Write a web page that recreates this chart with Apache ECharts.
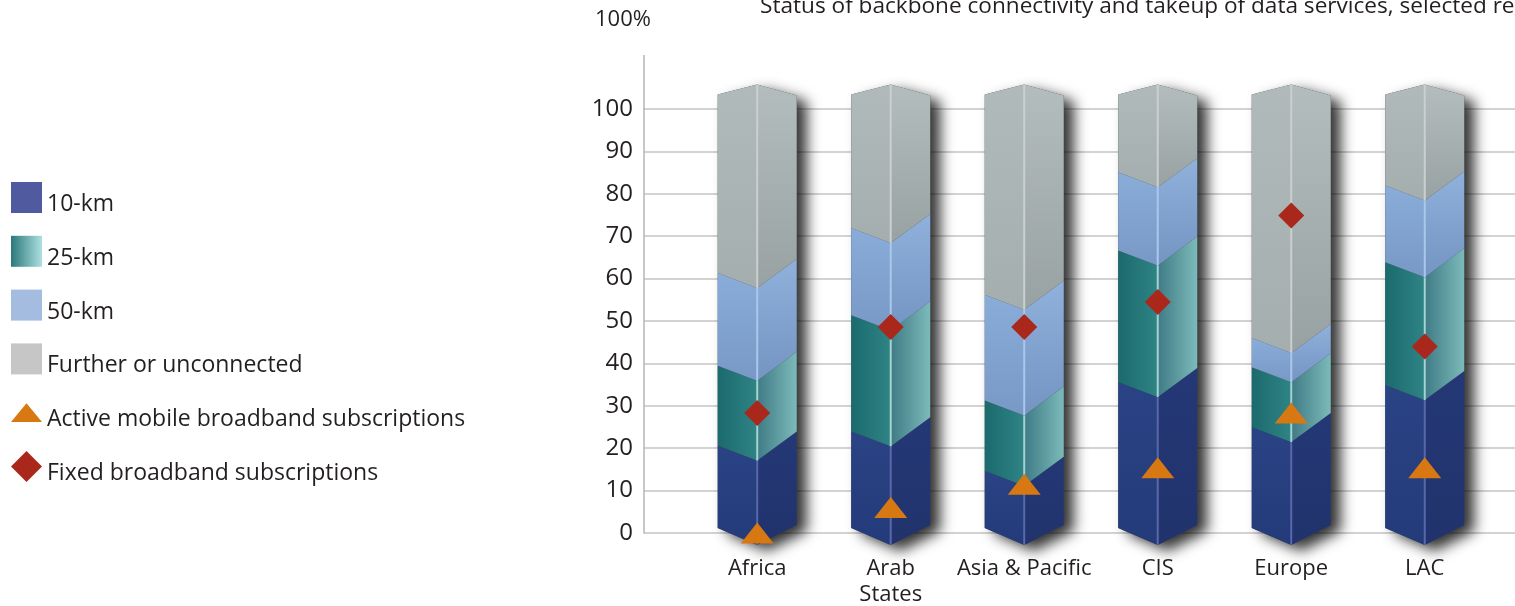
<!DOCTYPE html>
<html>
<head>
<meta charset="utf-8">
<script src="https://cdn.jsdelivr.net/npm/echarts@6.0.0/dist/echarts.min.js"></script>
<style>
  html, body { margin: 0; padding: 0; background: #fff; }
  #myChart { width: 1515px; height: 606px; }
</style>
</head>
<body>
<div id="myChart"></div>
<script type="text/javascript">

  // data (share of population, %)
  var categories = ['Africa', 'Arab\nStates', 'Asia & Pacific', 'CIS', 'Europe', 'LAC'];
  var km10 = [19.0, 22.3, 13.2, 33.7, 23.3, 33.0];
  var km25 = [18.4, 26.8, 16.2, 30.3, 13.8, 28.3];
  var km50 = [21.4, 20.1, 24.4, 18.1, 6.7, 17.7];
  var further = [41.2, 30.8, 46.2, 17.9, 56.2, 21.0];
  var mobileBB = [0, 6.0, 11.5, 15.4, 28.3, 15.4];
  var fixedBB = [28.3, 48.6, 48.6, 54.5, 74.9, 44.0];
  var layerNames = ['10-km', '25-km', '50-km', 'Further or unconnected'];
  var layers = [km10, km25, km50, further];

  var chartDom = document.getElementById('myChart');
  var myChart = echarts.init(chartDom);

  var font = 'Open Sans';
  var textColor = '#231f20';

  // face colours of the prisms
  var faces = [
    { left: ['#2a4384', '#243b7a'], right: ['#243877', '#21336c'], dir: 'v', ridge: '#5a67aa', legend: '#4f5b9e' },
    { left: ['#1b6a6e', '#2f8484'], right: ['#3f7b85', '#7cbaba'], dir: 'h', ridge: '#a3d3d2', legend: null },
    { left: ['#8aacd8', '#7899c6'], right: ['#8fb1db', '#7494c2'], dir: 'v', ridge: '#aac7ec', legend: '#a3bce0' },
    { left: ['#b0babb', '#a4aeaf'], right: ['#b3bdbd', '#98a2a2'], dir: 'v', ridge: '#cbcfcf', legend: '#c6c6c6' }
  ];

  function grad(c, dir) {
    if (dir === 'h') {
      return new echarts.graphic.LinearGradient(0, 0, 1, 0, [{ offset: 0, color: c[0] }, { offset: 1, color: c[1] }]);
    }
    return new echarts.graphic.LinearGradient(0, 0, 0, 1, [{ offset: 0, color: c[0] }, { offset: 1, color: c[1] }]);
  }

  var HALF = 39.5;
  // edge of the prism sits a bit higher than the flat value (3D look)
  function edgeY(api, i, c) {
    return api.coord([i, 1.2 + c * 1.022])[1];
  }
  function kink(c, total) {
    if (c <= 0) return [17, -3];
    if (c >= total - 0.01) return [-10, 1];
    return [15, -14];
  }

  function layerRender(k) {
    return function (params, api) {
      var i = api.value(0), lo = api.value(1), hi = api.value(2), total = api.value(3);
      var cx = api.coord([i, 0])[0];
      var y0 = edgeY(api, i, lo), y1 = edgeY(api, i, hi);
      var k0 = kink(lo, total), k1 = kink(hi, total);
      var xl = cx - HALF, xr = cx + HALF;
      var st = faces[k];
      return {
        type: 'group',
        children: [
          {
            type: 'polygon',
            shape: { points: [[xl, y0], [cx, y0 + k0[0]], [cx, y1 + k1[0]], [xl, y1]] },
            style: { fill: grad(st.left, st.dir) }
          },
          {
            type: 'polygon',
            shape: { points: [[cx, y0 + k0[0]], [xr, y0 + k0[1]], [xr, y1 + k1[1]], [cx, y1 + k1[0]]] },
            style: { fill: grad(st.right, st.dir) }
          },
          {
            type: 'line',
            shape: { x1: cx, y1: y0 + k0[0], x2: cx, y2: y1 + k1[0] },
            style: { stroke: st.ridge, lineWidth: 2 }
          }
        ]
      };
    };
  }

  function shadowRender(params, api) {
    var i = api.value(0), total = api.value(1);
    var cx = api.coord([i, 0])[0];
    var y0 = edgeY(api, i, 0), y1 = edgeY(api, i, total);
    var b = kink(0, total), t = kink(total, total);
    return {
      type: 'polygon',
      shape: {
        points: [[cx - HALF, y1], [cx, y1 + t[0]], [cx + HALF, y1 + t[1]],
                 [cx + HALF, y0 + b[1]], [cx, y0 + b[0]], [cx - HALF, y0]]
      },
      style: {
        fill: '#444',
        shadowBlur: 14,
        shadowColor: 'rgba(0,0,0,0.8)',
        shadowOffsetX: 10,
        shadowOffsetY: 6
      }
    };
  }

  var series = [];
  var totals = categories.map(function (c, i) {
    return layers.reduce(function (s, arr) { return s + arr[i]; }, 0);
  });

  series.push({
    name: 'shadow',
    type: 'custom',
    renderItem: shadowRender,
    encode: { x: 0, y: 1 },
    silent: true,
    data: totals.map(function (t, i) { return [i, t]; })
  });

  var cum = categories.map(function () { return 0; });
  layers.forEach(function (arr, k) {
    var data = arr.map(function (v, i) {
      var row = [i, cum[i], cum[i] + v, totals[i]];
      cum[i] += v;
      return row;
    });
    series.push({
      name: layerNames[k],
      type: 'custom',
      renderItem: layerRender(k),
      encode: { x: 0, y: [1, 2] },
      itemStyle: {
        color: faces[k].legend || new echarts.graphic.LinearGradient(0, 0, 1, 0, [
          { offset: 0, color: '#2b787b' }, { offset: 1, color: '#aee0e0' }
        ])
      },
      data: data
    });
  });

  series.push({
    name: 'Active mobile broadband subscriptions',
    type: 'scatter',
    symbol: 'triangle',
    symbolSize: [33, 21],
    itemStyle: { color: '#d77812', opacity: 1 },
    z: 5,
    data: mobileBB.map(function (v, i) { return [i, v]; })
  });

  series.push({
    name: 'Fixed broadband subscriptions',
    type: 'scatter',
    symbol: 'diamond',
    symbolSize: [26, 26],
    itemStyle: { color: '#a9281b', opacity: 1 },
    z: 6,
    data: fixedBB.map(function (v, i) { return [i, v]; })
  });

  var option = {
    backgroundColor: '#fff',
    animation: false,
    title: {
      text: 'Status of backbone connectivity and takeup of data services, selected regions',
      left: 755,
      top: -10,
      textStyle: { fontFamily: font, fontSize: 22.6, fontWeight: 'normal', color: textColor }
    },
    legend: {
      orient: 'vertical',
      left: 11,
      top: 179,
      padding: 0,
      itemWidth: 31,
      itemHeight: 31,
      itemGap: 16.8,
      formatter: '{t|{name}}',
      textStyle: {
        fontFamily: font, fontSize: 23, color: textColor, lineHeight: 31,
        rich: { t: { fontFamily: font, fontSize: 23, color: textColor, lineHeight: 31, padding: [14, 0, 0, 0] } }
      },
      data: [
        { name: '10-km', icon: 'rect' },
        { name: '25-km', icon: 'rect' },
        { name: '50-km', icon: 'rect' },
        { name: 'Further or unconnected', icon: 'rect' },
        { name: 'Active mobile broadband subscriptions', icon: 'path://M0,20L16.5,0L33,20Z' },
        { name: 'Fixed broadband subscriptions', icon: 'diamond' }
      ]
    },
    grid: { left: 644, right: 0, top: 109, bottom: 73, outerBoundsMode: 'none' },
    xAxis: {
      type: 'value',
      min: -0.848,
      max: 5.676,
      axisLine: { show: false },
      axisTick: { show: false },
      splitLine: { show: false },
      axisLabel: {
        customValues: [0, 1, 2, 3, 4, 5],
        formatter: function (v) { return categories[Math.round(v)]; },
        fontFamily: font,
        fontSize: 22,
        lineHeight: 26,
        color: textColor,
        margin: 23
      }
    },
    yAxis: {
      type: 'value',
      min: 0,
      max: 100,
      interval: 10,
      name: '100%',
      nameLocation: 'end',
      nameGap: 78,
      nameTextStyle: { fontFamily: font, fontSize: 22, color: textColor, padding: [0, 42, 0, 0] },
      axisLine: {
        show: true,
        onZero: false,
        symbol: ['none', 'rect'],
        symbolSize: [1.5, 54],
        symbolOffset: [0, 27],
        lineStyle: { color: '#b4b4b4', width: 1.5 }
      },
      axisTick: { show: false },
      axisLabel: { fontFamily: font, fontSize: 24, color: textColor, margin: 11 },
      splitLine: { lineStyle: { color: '#c4c4c4', width: 1.5 } }
    },
    series: series
  };

  option && myChart.setOption(option);
</script>
</body>
</html>
